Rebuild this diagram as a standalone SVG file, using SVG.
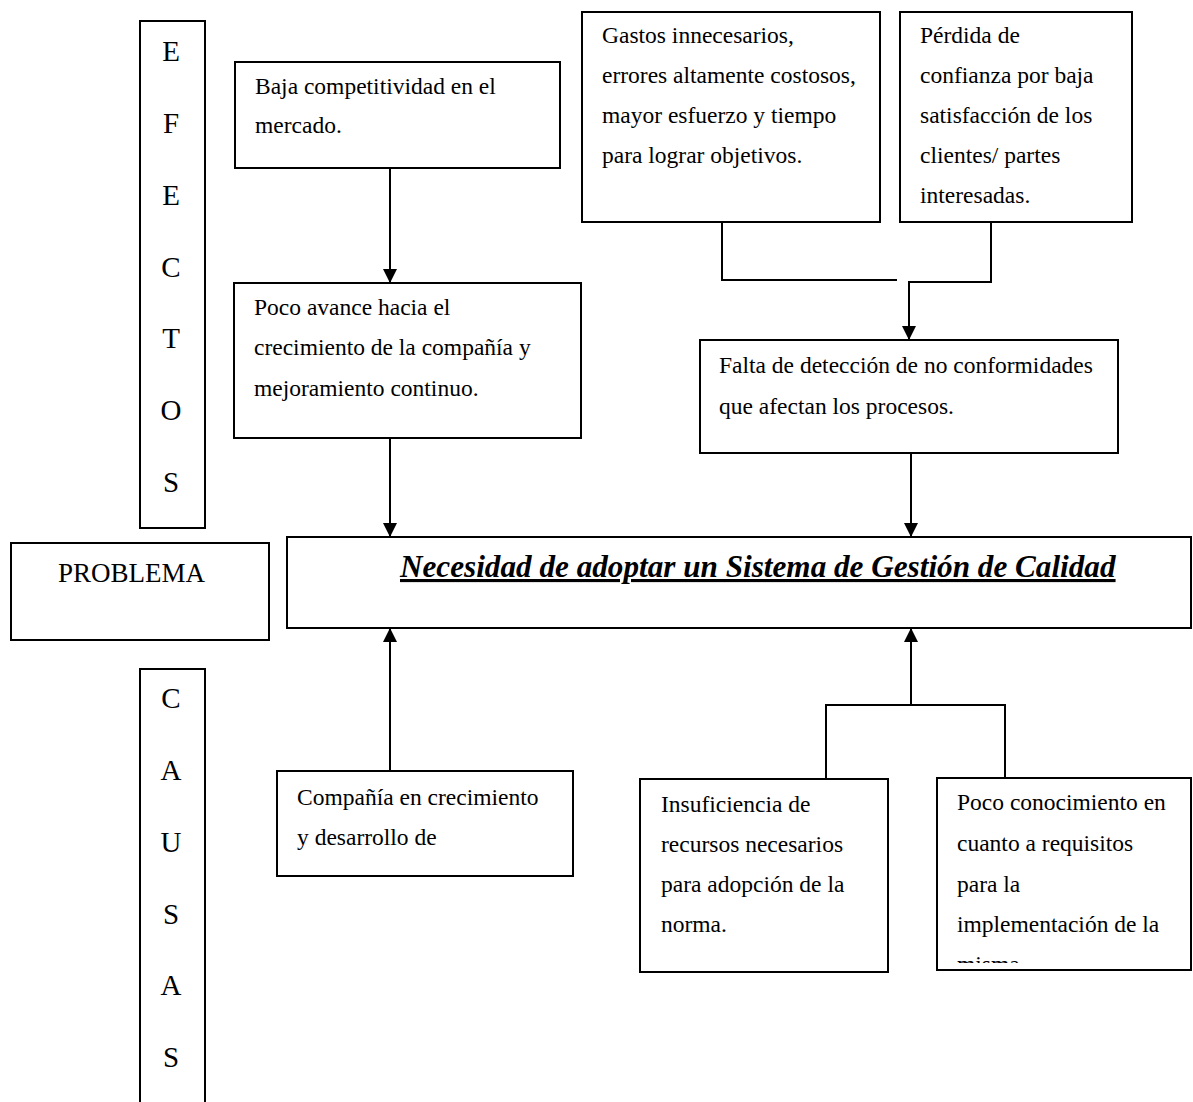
<svg xmlns="http://www.w3.org/2000/svg" width="1193" height="1102" viewBox="0 0 1193 1102">
  <style>
    .box { fill: #fff; stroke: #000; stroke-width: 2; }
    .txt { font-family: "Liberation Serif", "Times New Roman", serif; font-size: 23.5px; fill: #000; }
    .col { font-family: "Liberation Serif", "Times New Roman", serif; font-size: 29px; fill: #000; text-anchor: middle; }
    .big { font-family: "Liberation Serif", "Times New Roman", serif; font-size: 27px; fill: #000; }
    .title { font-family: "Liberation Serif", "Times New Roman", serif; font-size: 31.2px; font-weight: bold; font-style: italic; text-decoration: underline; fill: #000; }
    .wire { fill: none; stroke: #000; stroke-width: 2; }
  </style>
  <defs>
    <marker id="arrow" viewBox="0 0 14 14" refX="14" refY="7" markerWidth="14" markerHeight="14" markerUnits="userSpaceOnUse" orient="auto">
      <path d="M0,0 L14,7 L0,14 z" fill="#000"/>
    </marker>
    <clipPath id="clipPoco">
      <rect x="937" y="778" width="254" height="185"/>
    </clipPath>
  </defs>
  <rect width="1193" height="1102" fill="#fff"/>

  <!-- connectors -->
  <g id="connectors">
    <path class="wire" d="M390,168 V283" marker-end="url(#arrow)"/>
    <path class="wire" d="M390,438 V537" marker-end="url(#arrow)"/>
    <path class="wire" d="M722,222 V280 H897"/>
    <path class="wire" d="M991,222 V282 H909 V340" marker-end="url(#arrow)"/>
    <path class="wire" d="M911,453 V537" marker-end="url(#arrow)"/>
    <path class="wire" d="M390,771 V628" marker-end="url(#arrow)"/>
    <path class="wire" d="M826,779 V705 H1005 V778"/>
    <path class="wire" d="M911,705 V628" marker-end="url(#arrow)"/>
  </g>

  <!-- side label: EFECTOS -->
  <g id="efectos">
    <rect class="box" x="140" y="21" width="65" height="507"/>
    <text class="col" x="171" y="61">E</text>
    <text class="col" x="171" y="133">F</text>
    <text class="col" x="171" y="205">E</text>
    <text class="col" x="171" y="277">C</text>
    <text class="col" x="171" y="348">T</text>
    <text class="col" x="171" y="420">O</text>
    <text class="col" x="171" y="492">S</text>
  </g>

  <!-- side label: PROBLEMA -->
  <g id="problema">
    <rect class="box" x="11" y="543" width="258" height="97"/>
    <text class="big" x="58" y="582">PROBLEMA</text>
  </g>

  <!-- side label: CAUSAS -->
  <g id="causas">
    <rect class="box" x="140" y="669" width="65" height="450"/>
    <text class="col" x="171" y="708">C</text>
    <text class="col" x="171" y="780">A</text>
    <text class="col" x="171" y="852">U</text>
    <text class="col" x="171" y="924">S</text>
    <text class="col" x="171" y="995">A</text>
    <text class="col" x="171" y="1067">S</text>
  </g>

  <!-- effects -->
  <g id="baja-competitividad">
    <rect class="box" x="235" y="62" width="325" height="106"/>
    <text class="txt" x="255" y="94">Baja competitividad en el</text>
    <text class="txt" x="255" y="133">mercado.</text>
  </g>

  <g id="poco-avance">
    <rect class="box" x="234" y="283" width="347" height="155"/>
    <text class="txt" x="254" y="315">Poco avance hacia el</text>
    <text class="txt" x="254" y="355">crecimiento de la compañía y</text>
    <text class="txt" x="254" y="396">mejoramiento continuo.</text>
  </g>

  <g id="gastos">
    <rect class="box" x="582" y="12" width="298" height="210"/>
    <text class="txt" x="602" y="43">Gastos innecesarios,</text>
    <text class="txt" x="602" y="83">errores altamente costosos,</text>
    <text class="txt" x="602" y="123">mayor esfuerzo y tiempo</text>
    <text class="txt" x="602" y="163">para lograr objetivos.</text>
  </g>

  <g id="perdida-confianza">
    <rect class="box" x="900" y="12" width="232" height="210"/>
    <text class="txt" x="920" y="43">Pérdida de</text>
    <text class="txt" x="920" y="83">confianza por baja</text>
    <text class="txt" x="920" y="123">satisfacción de los</text>
    <text class="txt" x="920" y="163">clientes/ partes</text>
    <text class="txt" x="920" y="203">interesadas.</text>
  </g>

  <g id="falta-deteccion">
    <rect class="box" x="700" y="340" width="418" height="113"/>
    <text class="txt" x="719" y="373">Falta de detección de no conformidades</text>
    <text class="txt" x="719" y="414">que afectan los procesos.</text>
  </g>

  <!-- central problem -->
  <g id="necesidad-sgc">
    <rect class="box" x="287" y="537" width="904" height="91"/>
    <text class="title" x="400" y="577">Necesidad de adoptar un Sistema de Gestión de Calidad</text>
  </g>

  <!-- causes -->
  <g id="compania-crecimiento">
    <rect class="box" x="277" y="771" width="296" height="105"/>
    <text class="txt" x="297" y="805">Compañía en crecimiento</text>
    <text class="txt" x="297" y="845">y desarrollo de</text>
  </g>

  <g id="insuficiencia-recursos">
    <rect class="box" x="640" y="779" width="248" height="193"/>
    <text class="txt" x="661" y="812">Insuficiencia de</text>
    <text class="txt" x="661" y="852">recursos necesarios</text>
    <text class="txt" x="661" y="892">para adopción de la</text>
    <text class="txt" x="661" y="932">norma.</text>
  </g>

  <g id="poco-conocimiento">
    <rect class="box" x="937" y="778" width="254" height="192"/>
    <!-- last line runs past the box and is cut off -->
    <g clip-path="url(#clipPoco)">
      <text class="txt" x="957" y="810">Poco conocimiento en</text>
      <text class="txt" x="957" y="851">cuanto a requisitos</text>
      <text class="txt" x="957" y="892">para la</text>
      <text class="txt" x="957" y="932">implementación de la</text>
      <text class="txt" x="957" y="972">misma.</text>
    </g>
  </g>
</svg>
